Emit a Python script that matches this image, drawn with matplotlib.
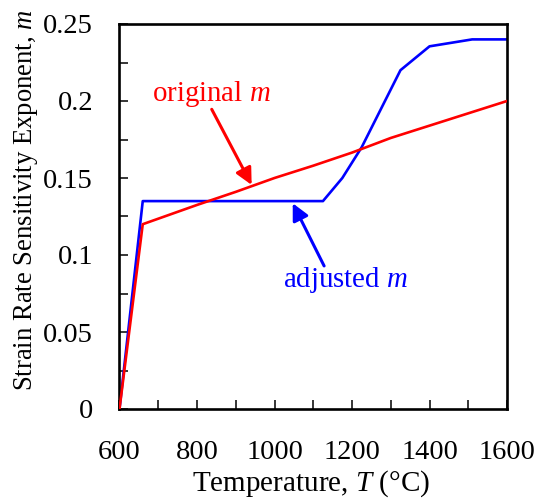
import matplotlib
matplotlib.use('Agg')
import matplotlib.pyplot as plt
from matplotlib.ticker import MultipleLocator, FormatStrFormatter

# temperature (C) and strain rate sensitivity exponent m
temp_orig = [600, 660, 800, 900, 1000, 1100, 1200, 1300, 1400, 1500, 1600]
m_orig = [0.0, 0.12, 0.1325, 0.141, 0.150, 0.158, 0.1665, 0.176, 0.184, 0.192, 0.200]

temp_adj = [600, 660, 1125, 1175, 1225, 1325, 1400, 1510, 1600]
m_adj = [0.0, 0.135, 0.135, 0.150, 0.170, 0.220, 0.2355, 0.240, 0.240]

plt.rcParams['font.family'] = ['Liberation Serif', 'DejaVu Serif']
plt.rcParams['mathtext.fontset'] = 'custom'
plt.rcParams['mathtext.it'] = 'Liberation Serif:italic'
plt.rcParams['mathtext.rm'] = 'Liberation Serif'

fig = plt.figure(figsize=(5.39, 5.0), dpi=100)
ax = fig.add_axes([0.2217, 0.182, 0.719, 0.77])

ax.plot(temp_orig, m_orig, color='#ff0000', lw=1.9, zorder=3)
ax.plot(temp_adj, m_adj, color='#0000ff', lw=1.9, zorder=2)

ax.set_xlim(600, 1600)
ax.set_ylim(0, 0.25)
ax.xaxis.set_major_locator(MultipleLocator(200))
ax.xaxis.set_minor_locator(MultipleLocator(100))
ax.yaxis.set_major_locator(MultipleLocator(0.05))
ax.yaxis.set_minor_locator(MultipleLocator(0.025))
ax.yaxis.set_major_formatter(FormatStrFormatter('%g'))
ax.tick_params(which='both', direction='in', length=6.5, width=1.1,
               top=False, right=False, labelsize=20.5)
ax.tick_params(axis='x', pad=22)
ax.tick_params(axis='y', pad=19)
for s in ax.spines.values():
    s.set_linewidth(1.9)

ax.set_xlabel('Temperature, $T$ (°C)', fontsize=21)
ax.set_ylabel('Strain Rate Sensitivity Exponent, $m$', fontsize=19.2)
ax.xaxis.set_label_coords(0.495, -0.155)
ax.yaxis.set_label_coords(-0.205, 0.543)

# labels with arrows
arrow_style = '-|>,head_length=1.0,head_width=0.5'
ax.text(838, 0.2045, 'original $m$', color='#ff0000', fontsize=20.8,
        ha='center', va='center')
ax.annotate('', xy=(941, 0.1455), xytext=(838, 0.1946),
            arrowprops=dict(arrowstyle=arrow_style, color='#ff0000',
                            lw=2.2, shrinkA=0, shrinkB=0))

ax.text(1184, 0.0838, 'adjusted $m$', color='#0000ff', fontsize=20.8,
        ha='center', va='center')
ax.annotate('', xy=(1047, 0.1336), xytext=(1128, 0.0929),
            arrowprops=dict(arrowstyle=arrow_style, color='#0000ff',
                            lw=2.2, shrinkA=0, shrinkB=0))

fig.savefig('out.png', dpi=100)
